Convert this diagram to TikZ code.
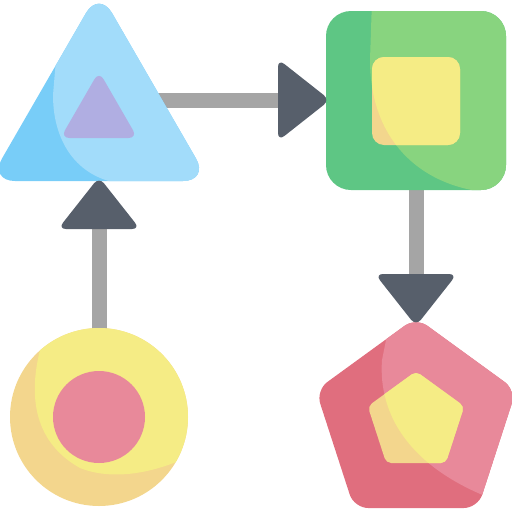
\documentclass[tikz,border=0pt]{standalone}
\usepackage{xcolor}
\definecolor{tridark}{HTML}{78CDF8}
\definecolor{trilight}{HTML}{A2DCFA}
\definecolor{trimid}{HTML}{B0AEE2}
\definecolor{sqdark}{HTML}{5EC684}
\definecolor{sqlight}{HTML}{88D47F}
\definecolor{ylight}{HTML}{F5EC85}
\definecolor{ydark}{HTML}{F3D68D}
\definecolor{rosy}{HTML}{E8899A}
\definecolor{pentdark}{HTML}{E06E7E}
\definecolor{shaftgray}{HTML}{A5A5A5}
\definecolor{headgray}{HTML}{575F6B}
\usepackage{tikz}
\usetikzlibrary{calc}

\begin{document}
\begin{tikzpicture}[
    x=1pt, y=-1pt,
    shaft/.style={draw=shaftgray, line width=15pt},
    head/.style={fill=headgray, rounded corners=8pt}
]
\useasboundingbox (0,0) rectangle (512,512);

% anchor points
\coordinate (circTop) at (99.5,335);
\coordinate (upBase) at (99.5,226);
\coordinate (upTip) at (99,181);
\coordinate (triRight) at (150,100.5);
\coordinate (rightBase) at (282,100.5);
\coordinate (rightTip) at (326,100);
\coordinate (sqBottom) at (416,180);
\coordinate (downBase) at (416,278);
\coordinate (downTip) at (416,322);

% shafts
\draw[shaft] (circTop) -- (upBase);
\draw[shaft] (triRight) -- (rightBase);
\draw[shaft] (sqBottom) -- (downBase);

% triangle
\fill[tridark, rounded corners=26pt] (-11,181) -- (209,181) -- (99,-9.5) -- cycle;
\begin{scope}
  \clip[rounded corners=26pt] (-11,181) -- (209,181) -- (99,-9.5) -- cycle;
  \fill[trilight] (61,0) -- (53,95) .. controls (53,145) and (80,180) .. (125,184) -- (230,184) -- (230,-20) -- (61,-20) -- cycle;
\end{scope}
\fill[trimid, rounded corners=9pt] (60.5,138) -- (137.5,138) -- (99,71.3) -- cycle;

% square
\fill[sqdark, rounded corners=25pt] (326,11) rectangle (506,190);
\begin{scope}
  \clip[rounded corners=25pt] (326,11) rectangle (506,190);
  \fill[sqlight] (372,0) -- (370,60) .. controls (370,140) and (420,185) .. (485,192) -- (520,192) -- (520,0) -- cycle;
\end{scope}
\fill[ydark, rounded corners=12pt] (372,57) rectangle (460,145);
\begin{scope}
  \clip (372,0) -- (370,60) .. controls (370,140) and (420,185) .. (485,192) -- (520,192) -- (520,0) -- cycle;
  \fill[ylight, rounded corners=12pt] (372,57) rectangle (460,145);
\end{scope}

% circle
\fill[ydark] (99,417) circle [radius=89pt];
\begin{scope}
  \clip (99,417) circle [radius=89pt];
  \fill[ylight] (48,320) -- (40,350) .. controls (30,390) and (30,440) .. (80,468)
    .. controls (110,480) and (150,475) .. (190,456) -- (200,456) -- (200,300) -- cycle;
\end{scope}
\fill[rosy] (99,417) circle [radius=46pt];

% pentagon
\fill[pentdark, rounded corners=14pt] (416,317.5) -- (516.1,390.3) -- (477.9,508) -- (354.1,508) -- (315.9,390.3) -- cycle;
\begin{scope}
  \clip[rounded corners=14pt] (416,317.5) -- (516.1,390.3) -- (477.9,508) -- (354.1,508) -- (315.9,390.3) -- cycle;
  \fill[rosy] (392,310) -- (382,360) .. controls (378,415) and (410,465) .. (485,496) -- (530,496) -- (530,310) -- cycle;
\end{scope}
\fill[ydark, rounded corners=5pt] (416,371.3) -- (464.2,406.3) -- (445.8,463) -- (386.2,463) -- (367.8,406.3) -- cycle;
\begin{scope}
  \clip (392,310) -- (382,360) .. controls (378,415) and (410,465) .. (485,496) -- (530,496) -- (530,310) -- cycle;
  \fill[ylight, rounded corners=5pt] (416,371.3) -- (464.2,406.3) -- (445.8,463) -- (386.2,463) -- (367.8,406.3) -- cycle;
\end{scope}

% heads
\fill[head, shift={(upTip)}] (0,-4) -- (41,48) -- (-41,48) -- cycle;
\fill[head, shift={(rightTip)}] (4,0) -- (-48,-41) -- (-48,41) -- cycle;
\fill[head, shift={(downTip)}] (0,4) -- (-41,-48) -- (41,-48) -- cycle;
\end{tikzpicture}
\end{document}
